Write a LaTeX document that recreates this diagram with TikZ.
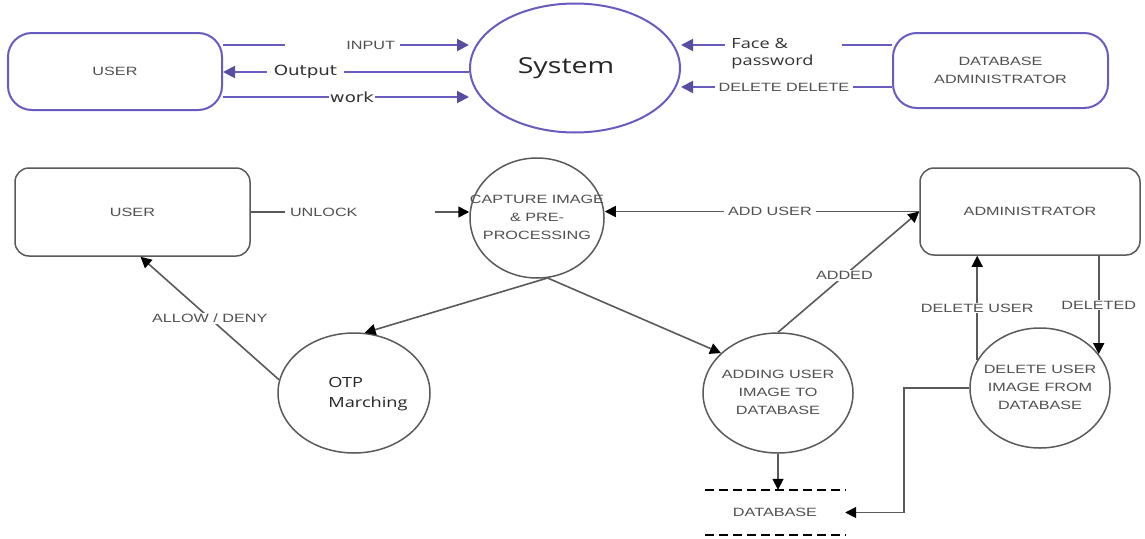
\documentclass[tikz,border=0pt]{standalone}
\usepackage{fontspec}
\setmainfont{Liberation Sans}[FakeStretch=1.35]
\newfontfamily\segoefont{Open Sans}[FakeStretch=1.3]
\newfontfamily\verdfont{DejaVu Sans}[FakeStretch=1.3]
\usetikzlibrary{shapes.geometric,arrows.meta}
\definecolor{dfdpurple}{RGB}{104,92,190}
\definecolor{dfdgray}{RGB}{90,90,90}
\definecolor{dfdtext}{RGB}{80,80,80}
\newcommand{\proctext}[2][c]{\makebox[0pt]{\begin{tabular}{@{}#1@{}}#2\end{tabular}}}

\begin{document}
\begin{tikzpicture}[x=1pt,y=-1pt,
  small text/.style={font=\fontsize{12}{18}\selectfont,text=dfdtext},
  big text/.style={font=\verdfont\fontsize{14}{17}\selectfont,text=black!80},
  top entity/.style={rectangle,rounded corners=24pt,draw=dfdpurple,line width=2pt,small text,align=center},
  entity/.style={rectangle,rounded corners=14pt,draw=dfdgray,line width=1.5pt,small text,align=center},
  process/.style={ellipse,draw=dfdgray,line width=1.5pt,small text,inner sep=0pt},
  top flow/.style={draw=dfdpurple,line width=2pt,-{Triangle[length=12pt,width=12pt,color=dfdpurple!85!black]}},
  flow/.style={draw=dfdgray,line width=1.6pt,-{Triangle[length=11pt,width=11pt,color=black]}},
  lbl/.style={small text,fill=white,inner xsep=4pt,inner ysep=1pt},
  db line/.style={draw=black,line width=2.2pt,dash pattern=on 9pt off 5pt}]

  \useasboundingbox[fill=white] (0,0) rectangle (1145,538);

  \node[top entity,minimum width=214pt,minimum height=77pt] (topuser) at (115,71.5) {USER};
  \node[ellipse,draw=dfdpurple,line width=2pt,minimum width=210pt,minimum height=129pt,
    font=\segoefont\fontsize{22}{26}\selectfont,text=black!85] (system) at (575,68) {\hspace*{-18pt}System};
  \node[top entity,minimum width=215pt,minimum height=75pt] (dbadmin) at (1000.5,70.5) {DATABASE\\ADMINISTRATOR};

  \draw[top flow] ([yshift=26.5pt]topuser.east) -- node[pos=0.486,small text,fill=white,text width=105pt,inner xsep=5pt,inner ysep=1pt,align=right] {INPUT} ([yshift=26.5pt]topuser.east -| system.west);
  \draw[top flow] ([yshift=-4pt]system.west) -- node[pos=0.665,big text,fill=white,inner xsep=7pt,inner ysep=1pt] {Output} ([yshift=-4pt]system.west -| topuser.east);
  \draw[top flow] ([yshift=-25.5pt]topuser.east) -- node[pos=0.524,big text,fill=white,inner xsep=1pt,inner ysep=1pt] {work} ([yshift=-25.5pt]topuser.east -| system.west);
  \draw[top flow] ([yshift=25.5pt]dbadmin.west) -- node[pos=0.512,anchor=north,yshift=9pt,fill=white,text width=105pt,inner xsep=6pt,inner ysep=1pt,align=left,
    font=\segoefont\fontsize{14}{17}\selectfont,text=black!80] {Face \&\\password} ([yshift=25.5pt]dbadmin.west -| system.east);
  \draw[top flow] ([yshift=-16.5pt]dbadmin.west) -- node[pos=0.512,lbl] {DELETE DELETE} ([yshift=-16.5pt]dbadmin.west -| system.east);

  \node[entity,minimum width=235pt,minimum height=88pt] (user) at (132.5,212) {USER};
  \node[process,minimum width=134pt,minimum height=120pt] (capture) at (537,218) {\proctext{CAPTURE IMAGE\\\& PRE-\\PROCESSING}};
  \node[entity,minimum width=220pt,minimum height=87pt] (admin) at (1030,211.5) {ADMINISTRATOR};
  \node[process,minimum width=152pt,minimum height=120pt,font=\segoefont\fontsize{14}{20}\selectfont,text=black!85] (otp) at (354,393) {\hspace*{28pt}\proctext[l]{OTP\\Marching}};
  \node[process,minimum width=150pt,minimum height=120pt] (adding) at (778,393) {\proctext{ADDING USER\\IMAGE TO\\DATABASE}};
  \node[process,minimum width=140pt,minimum height=120pt] (remove) at (1040,388) {\proctext{DELETE USER\\IMAGE FROM\\DATABASE}};
  \node[small text,minimum width=140pt,minimum height=45pt] (db) at (775,512.5) {\raisebox{-6pt}{DATABASE}};

  \draw[flow] (user.east) -- node[pos=0.5,small text,fill=white,text width=140pt,inner xsep=5pt,inner ysep=1pt,align=left] {UNLOCK} (user.east -| capture.west);
  \draw[flow] (admin.west) -- node[pos=0.475,lbl] {ADD USER} (admin.west -| capture.east);
  \draw[flow] (capture.-80) -- (otp.80);
  \draw[flow] (capture.-80) -- (adding.145);
  \draw[flow] (otp.170) -- node[lbl] {ALLOW / DENY} ([xshift=8pt]user.south);
  \draw[flow] (adding.north) -- node[pos=0.47,lbl] {ADDED} (admin.west);
  \draw[flow] (remove.156) -- node[lbl] {DELETE USER} (remove.156 |- admin.south);
  \draw[flow] (remove.30 |- admin.south) -- node[lbl] {DELETED} (remove.30);
  \draw[flow] (adding.south) -- (adding.south |- db.north);
  \draw[flow] (remove.west) -- ++(-65,0) |- (db.east);
  \draw[db line] (db.north west) -- (db.north east) (db.south west) -- (db.south east);
\end{tikzpicture}
\end{document}
